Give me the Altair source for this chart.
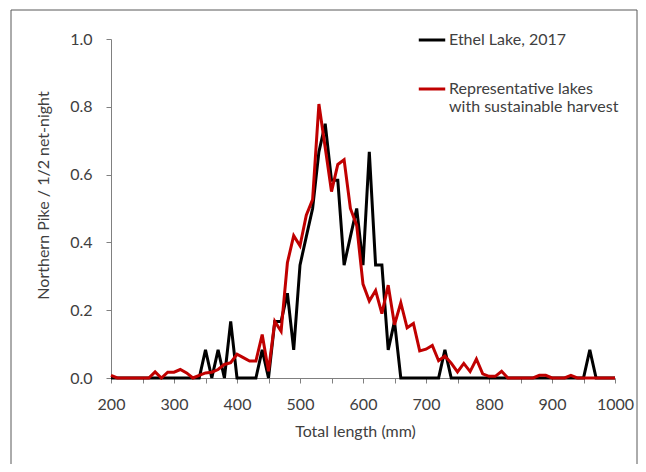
import altair as alt
import pandas as pd

lengths = [200, 210, 220, 230, 240, 250, 260, 270, 280, 290,
           300, 310, 320, 330, 340, 350, 360, 370, 380, 390,
           400, 410, 420, 430, 440, 450, 460, 470, 480, 490,
           500, 510, 520, 530, 540, 550, 560, 570, 580, 590,
           600, 610, 620, 630, 640, 650, 660, 670, 680, 690,
           700, 710, 720, 730, 740, 750, 760, 770, 780, 790,
           800, 810, 820, 830, 840, 850, 860, 870, 880, 890,
           900, 910, 920, 930, 940, 950, 960, 970, 980, 990,
           1000]

ethel = [0, 0, 0, 0, 0, 0, 0, 0, 0, 0,
         0, 0, 0, 0, 0, 0.083, 0, 0.083, 0, 0.167,
         0, 0, 0, 0, 0.083, 0, 0.167, 0.167, 0.25, 0.083,
         0.333, 0.417, 0.5, 0.667, 0.75, 0.583, 0.583, 0.333, 0.417, 0.5,
         0.333, 0.667, 0.333, 0.333, 0.083, 0.167, 0, 0, 0, 0,
         0, 0, 0, 0.083, 0, 0, 0, 0, 0, 0,
         0, 0, 0, 0, 0, 0, 0, 0, 0, 0,
         0, 0, 0, 0, 0, 0, 0.083, 0, 0, 0,
         0]

representative = [0.008, 0, 0, 0, 0, 0, 0, 0.018, 0, 0.017,
                  0.017, 0.025, 0.015, 0, 0.008, 0.015, 0.017, 0.025, 0.04, 0.045,
                  0.07, 0.06, 0.05, 0.05, 0.128, 0.02, 0.167, 0.138, 0.34, 0.42,
                  0.39, 0.48, 0.526, 0.808, 0.68, 0.55, 0.63, 0.644, 0.5, 0.45,
                  0.277, 0.227, 0.258, 0.19, 0.274, 0.157, 0.222, 0.148, 0.161, 0.08,
                  0.085, 0.096, 0.051, 0.065, 0.044, 0.018, 0.043, 0.019, 0.056, 0.012,
                  0.005, 0.005, 0.02, 0, 0, 0, 0, 0, 0.008, 0.008,
                  0, 0, 0, 0.008, 0, 0, 0, 0, 0, 0,
                  0]

series_names = ["Ethel Lake, 2017", "Representative lakes with sustainable harvest"]
series_colors = ["#000000", "#c00000"]
x_ticks = [200, 250, 300, 350, 400, 450, 500, 550, 600, 650, 700, 750, 800, 850, 900, 950, 1000]
y_ticks = [0, 0.2, 0.4, 0.6, 0.8, 1.0]

df_e = pd.DataFrame({"length": lengths, "value": ethel, "series": series_names[0]})
df_r = pd.DataFrame({"length": lengths, "value": representative, "series": series_names[1]})

FONT = "Lato"
TXT = "#404040"
AX = "#808080"

color = alt.Color(
    "series:N",
    scale=alt.Scale(domain=series_names, range=series_colors),
    legend=alt.Legend(
        orient="none", legendX=306, legendY=-14, title=None,
        symbolType="stroke", symbolSize=700, symbolStrokeWidth=3,
        labelFont=FONT, labelFontSize=16, labelColor=TXT, labelLimit=400,
        labelOffset=2, rowPadding=26,
        labelExpr="datum.label == 'Representative lakes with sustainable harvest' ? ['Representative lakes', 'with sustainable harvest'] : datum.label",
    ),
)

x = alt.X(
    "length:Q",
    scale=alt.Scale(domain=[200, 1000], nice=False),
    axis=alt.Axis(
        title="Total length (mm)", values=x_ticks, format="d",
        labelExpr="datum.value % 100 == 0 ? datum.label : ''",
        labelFlush=False, labelOverlap=False,
        grid=False, tickSize=5, labelPadding=13, titleY=58, titleX=244,
        titleBaseline="alphabetic",
    ),
)
y = alt.Y(
    "value:Q",
    scale=alt.Scale(domain=[0, 1], nice=False),
    axis=alt.Axis(
        title="Northern Pike / 1/2 net-night", values=y_ticks, format=".1f",
        labelFlush=False, labelOverlap=False,
        grid=False, tickSize=5, labelPadding=14, titleX=-63, titleY=156,
        titleBaseline="alphabetic",
    ),
)

line_e = alt.Chart(df_e).mark_line(strokeWidth=3, strokeJoin="miter").encode(x=x, y=y, color=color)
line_r = alt.Chart(df_r).mark_line(strokeWidth=3, strokeJoin="miter").encode(x=x, y=y, color=color)

frame = alt.Chart(alt.Data(values=[{"a": 1}])).mark_rect(
    fill=None, stroke="#595959", strokeWidth=1, clip=False
).encode(
    x=alt.value(-100), x2=alt.value(526), y=alt.value(-29), y2=alt.value(480)
)

chart = alt.layer(frame, line_e, line_r).properties(
    width=504, height=339,
    autosize=alt.AutoSizeParams(type="none"),
    padding={"left": 103, "top": 31, "right": 23, "bottom": 86},
    background="white",
).configure_view(stroke=None).configure_axis(
    labelFont=FONT, labelFontSize=16, labelColor=TXT,
    titleFont=FONT, titleFontSize=16, titleColor=TXT, titleFontWeight="normal",
    domainColor=AX, tickColor=AX, domainWidth=1, tickWidth=1,
)

chart.save("out.html", embed_options={"renderer": "svg", "actions": False})
